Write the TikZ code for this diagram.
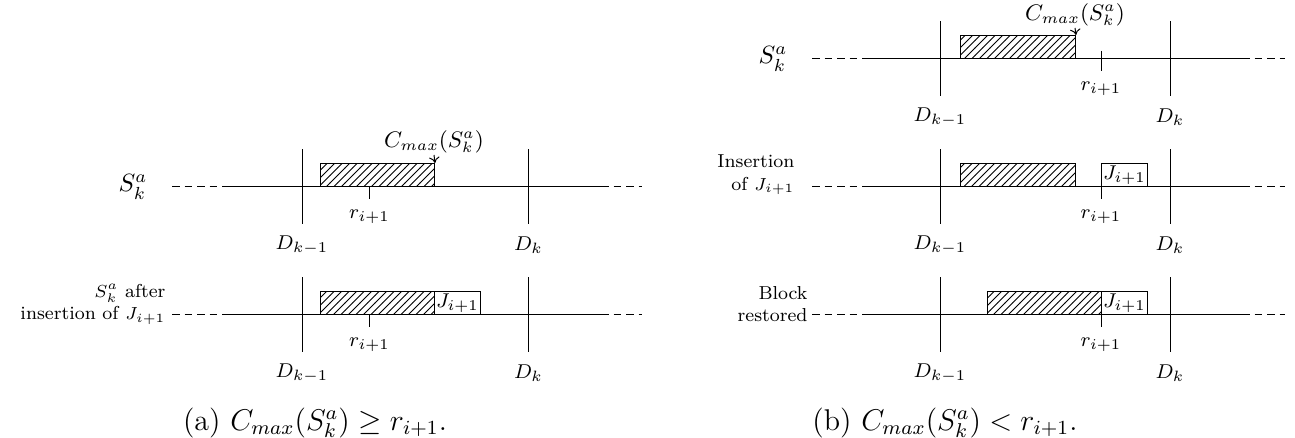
\documentclass[tikz,border=0pt]{standalone}
\usetikzlibrary{patterns,arrows.meta}
\tikzset{
  axisline/.style={line width=0.4pt},
  axisdash/.style={line width=0.4pt, dash pattern=on 3pt off 2pt},
  bound/.style={line width=0.4pt},
  hatchbox/.style={draw, line width=0.4pt, pattern=north east lines, anchor=south west,
    minimum height=9.2pt, inner sep=0pt},
  jobbox/.style={draw, line width=0.4pt, anchor=south west, minimum height=9.2pt,
    minimum width=18.4pt, inner sep=0pt, font=\footnotesize},
  smalllbl/.style={font=\footnotesize, inner sep=0pt},
  cmaxlbl/.style={font=\small, inner sep=0.5pt, anchor=south},
  rowlbl/.style={font=\fontsize{7.5}{9}\selectfont, align=right, anchor=east, inner sep=0pt},
  seqlbl/.style={font=\normalsize, inner sep=0pt},
  caplbl/.style={font=\large, inner sep=0pt},
  tickline/.style={line width=0.4pt},
  arr/.style={line width=0.4pt, -{To[length=2.4pt,width=4.2pt]}},
}
% #1 prefix, #2 y, #3 dash start, #4 solid start, #5 solid end, #6 dash end, #7 D_{k-1} x, #8 D_k x
\newcommand\tlrow[8]{%
  \coordinate (#1ds) at (#3,#2);
  \coordinate (#1ss) at (#4,#2);
  \coordinate (#1se) at (#5,#2);
  \coordinate (#1de) at (#6,#2);
  \draw[axisdash] (#1ds) -- (#1ss);
  \draw[axisline] (#1ss) -- (#1se);
  \draw[axisdash] (#1se) -- (#1de);
  \coordinate (#1pt) at (#7,{#2-37.5});
  \coordinate (#1pb) at (#7,{#2+37.5});
  \draw[bound] (#1pt) -- (#1pb);
  \coordinate (#1qt) at (#8,{#2-37.5});
  \coordinate (#1qb) at (#8,{#2+37.5});
  \draw[bound] (#1qt) -- (#1qb);
  \node[smalllbl] (#1dp) at (#7,{#2+58}) {$D_{k-1}$};
  \node[smalllbl] (#1dq) at (#8,{#2+58}) {$D_k$};
}
% #1 prefix, #2 x, #3 y, #4 top offset
\newcommand\rtick[4]{%
  \coordinate (#1rt) at (#2,{#3-#4});
  \coordinate (#1rb) at (#2,{#3+12});
  \draw[tickline] (#1rt) -- (#1rb);
  \node[smalllbl] (#1rl) at (#2,{#3+30}) {$r_{i+1}$};
}
\begin{document}
\begin{tikzpicture}[x=0.4pt,y=-0.4pt]
\useasboundingbox (0,0) rectangle (1295,438);

% ---------------- panel (a) ----------------
% row 1
\tlrow{aA}{187}{172}{222}{601}{642}{302}{528.5}
\node[seqlbl] (aAs) at (133,187) {$S^a_k$};
\node[hatchbox, minimum width=45.6pt] (aAb) at (320,187) {};
\rtick{aA}{369.5}{187}{0}
\node[cmaxlbl] (aAc) at (434,155) {$C_{max}(S^a_k)$};
\draw[arr] (aAc.south) -- (aAb.north east);

% row 2
\tlrow{aB}{315}{172}{222}{601}{642}{302}{528.5}
\node[rowlbl] (aBs) at (166,304) {$S^a_k$ after\\insertion of $J_{i+1}$};
\node[hatchbox, minimum width=45.6pt] (aBb) at (320,315) {};
\node[jobbox] (aBj) at (434,315) {$J_{i+1}$};
\rtick{aB}{369.5}{315}{0}

\node[caplbl] (capa) at (315,423) {(a) $C_{max}(S^a_k) \geq r_{i+1}$.};

% ---------------- panel (b) ----------------
% row 1
\tlrow{bA}{59}{812}{862}{1242}{1285}{940}{1170}
\node[seqlbl] (bAs) at (773,59) {$S^a_k$};
\node[hatchbox, minimum width=46pt] (bAb) at (960,59) {};
\rtick{bA}{1101}{59}{8}
\node[cmaxlbl] (bAc) at (1075,28) {$C_{max}(S^a_k)$};
\draw[arr] (bAc.south) -- (bAb.north east);

% row 2
\tlrow{bB}{187}{812}{862}{1242}{1285}{940}{1170}
\node[rowlbl] (bBs) at (795,175) {Insertion\\of $J_{i+1}$};
\node[hatchbox, minimum width=46pt] (bBb) at (960,187) {};
\node[jobbox] (bBj) at (1101,187) {$J_{i+1}$};
\rtick{bB}{1101}{187}{0}

% row 3
\tlrow{bC}{315}{812}{862}{1242}{1285}{940}{1170}
\node[rowlbl] (bCs) at (808,304) {Block\\restored};
\node[hatchbox, minimum width=45.6pt] (bCb) at (987,315) {};
\node[jobbox] (bCj) at (1101,315) {$J_{i+1}$};
\rtick{bC}{1101}{315}{0}

\node[caplbl] (capb) at (945,423) {(b) $C_{max}(S^a_k) < r_{i+1}$.};
\end{tikzpicture}
\end{document}
